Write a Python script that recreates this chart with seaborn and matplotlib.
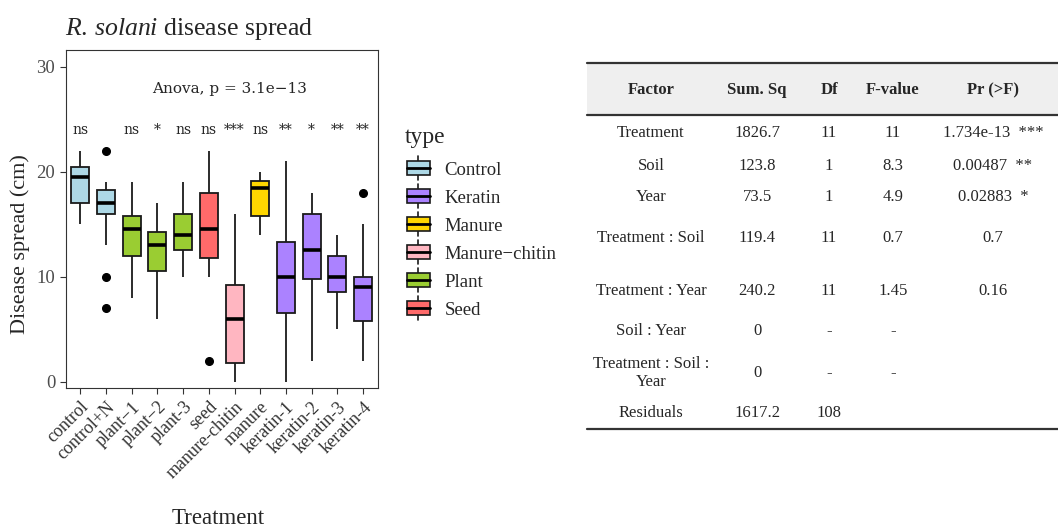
import matplotlib
matplotlib.use('Agg')
from matplotlib import pyplot as plt
from matplotlib.legend_handler import HandlerBase
from matplotlib.patches import Rectangle
from matplotlib.lines import Line2D
import pandas as pd
import seaborn as sb

sb.set_style('white')
plt.rcParams['font.family'] = ['Liberation Serif', 'DejaVu Serif']
plt.rcParams['mathtext.fontset'] = 'custom'
plt.rcParams['mathtext.it'] = 'Liberation Serif:italic'
plt.rcParams['mathtext.rm'] = 'Liberation Serif'

treatments = ['control', 'control+N', 'plant\u22121', 'plant\u22122', 'plant-3', 'seed',
              'manure-chitin', 'manure', 'keratin-1', 'keratin-2', 'keratin-3', 'keratin-4']
types = ['Control', 'Control', 'Plant', 'Plant', 'Plant', 'Seed',
         'Manure\u2212chitin', 'Manure', 'Keratin', 'Keratin', 'Keratin', 'Keratin']
control = [15, 16, 17, 18.5, 19.5, 20, 20.5, 21, 22]
control_n = [7, 10, 13, 16, 16.5, 16.8, 17, 17.5, 18, 18.3, 18.7, 19, 22]
plant_1 = [8, 10, 12, 13.5, 14.5, 15, 15.8, 17, 19]
plant_2 = [6, 9, 10.5, 12, 13, 13.5, 14.3, 16, 17]
plant_3 = [10, 11, 12.5, 13, 14, 15, 16, 17, 19]
seed = [2, 10, 11, 11.75, 13, 14, 14.5, 15, 17, 18, 19, 20, 22]
manure_chitin = [0, 1, 1.75, 4, 6, 7, 9.25, 12, 16]
manure = [14, 15, 15.8, 17, 18.5, 18.8, 19.1, 19.5, 20]
keratin_1 = [0, 4, 6.5, 8, 10, 12, 13.3, 17, 21]
keratin_2 = [2, 7, 9.75, 11, 12.5, 14, 16, 17, 18]
keratin_3 = [5, 7, 8.5, 9, 10, 11, 12, 13, 14]
keratin_4 = [2, 4, 5, 5.75, 7, 8, 9, 9.5, 9.8, 10, 12, 15, 18]
spread = [control, control_n, plant_1, plant_2, plant_3, seed,
          manure_chitin, manure, keratin_1, keratin_2, keratin_3, keratin_4]
signif = ['ns', '', 'ns', '*', 'ns', 'ns', '***', 'ns', '**', '*', '**', '**']
anova_label = 'Anova, p = 3.1e\u221213'

type_order = ['Control', 'Keratin', 'Manure', 'Manure\u2212chitin', 'Plant', 'Seed']
type_colors = ['#ADD8E6', '#AB82FF', '#FFD700', '#FFB6C1', '#9ACD32', '#FF6A6A']

# anova table
tab_header = ['Factor', 'Sum. Sq', 'Df', 'F-value', 'Pr (>F)']
tab_factor = ['Treatment', 'Soil', 'Year', 'Treatment : Soil', 'Treatment : Year',
              'Soil : Year', 'Treatment : Soil :\nYear', 'Residuals']
tab_sumsq = ['1826.7', '123.8', '73.5', '119.4', '240.2', '0', '0', '1617.2']
tab_df = ['11', '1', '1', '11', '11', '-', '-', '108']
tab_f = ['11', '8.3', '4.9', '0.7', '1.45', '-', '-', '']
tab_p = ['1.734e-13  ***', '0.00487  **', '0.02883  *', '0.7', '0.16', '', '', '']

rows = []
for t, ty, vals in zip(treatments, types, spread):
    for v in vals:
        rows.append({'Treatment': t, 'type': ty, 'spread': v})
df = pd.DataFrame(rows)

W, H = 1058, 527
fig = plt.figure(figsize=(W/100, H/100), dpi=100)
ax = fig.add_axes([65.7/W, 1-388/H, 312/W, 338/H])

sb.boxplot(data=df, x='Treatment', y='spread', hue='type', hue_order=type_order,
           palette=dict(zip(type_order, type_colors)), saturation=1, dodge=False, width=0.7,
           order=treatments, linecolor='#1a1a1a', linewidth=1.3, showcaps=False,
           medianprops=dict(color='black', linewidth=2.6),
           flierprops=dict(marker='o', markerfacecolor='black', markeredgecolor='black', markersize=5.5),
           legend=False, ax=ax)

ax.set_xlim(-0.57, 11.57)
ax.set_ylim(-0.6, 31.6)
ax.set_yticks([0, 10, 20, 30])
for s in ax.spines.values():
    s.set_color('#333333')
    s.set_linewidth(0.8)
ax.tick_params(axis='both', length=4, width=0.8, color='#333333', bottom=True, left=True)
ax.tick_params(axis='y', labelsize=13.5, labelcolor='#4D4D4D')
ax.tick_params(axis='x', labelsize=13, labelcolor='#333333')
plt.setp(ax.get_xticklabels(), rotation=45, ha='right', rotation_mode='anchor')
ax.set_xlabel('Treatment', fontsize=16.5)
ax.xaxis.set_label_coords(0.49, -0.355)
ax.set_ylabel('Disease spread (cm)', fontsize=16)
ax.yaxis.set_label_coords(-0.115, 0.426)

for i, s in enumerate(signif):
    ax.text(i, 23.6, s, ha='center', va='baseline', fontsize=10, family='DejaVu Serif')
ax.text(5.79, 27.5, anova_label, ha='center', va='baseline', fontsize=11, family='DejaVu Serif')

fig.text(65/W, 1-35/H, r'$\mathit{R.\,solani}$ disease spread', fontsize=18.5, va='baseline')

# legend with box-shaped keys
class BoxKey(HandlerBase):
    def create_artists(self, legend, orig_handle, xdescent, ydescent, width, height, fontsize, trans):
        fc = orig_handle.get_facecolor()
        y0 = -ydescent
        x0 = -xdescent
        cx = x0 + width/2
        box = Rectangle((x0, y0), width, height, facecolor=fc, edgecolor='#1a1a1a', lw=1.2, transform=trans)
        med = Line2D([x0, x0+width], [y0+height/2]*2, color='black', lw=2.0, transform=trans)
        wu = Line2D([cx, cx], [y0+height, y0+height*1.35], color='#1a1a1a', lw=1.2, transform=trans)
        wl = Line2D([cx, cx], [y0-height*0.35, y0], color='#1a1a1a', lw=1.2, transform=trans)
        return [wl, wu, box, med]

fig.text(405/W, 1-143/H, 'type', fontsize=17, va='baseline')
handles = [Rectangle((0, 0), 1, 1, facecolor=c) for c in type_colors]
leg = fig.legend(handles, type_order, loc='upper left',
                 bbox_to_anchor=(407/W, 1-161/H), frameon=False, fontsize=13.5,
                 handler_map={Rectangle: BoxKey()},
                 handlelength=1.2, handleheight=0.8, labelspacing=0.55, handletextpad=0.8,
                 borderaxespad=0, borderpad=0)

# anova table drawn in pixel coordinates
tx = fig.add_axes([0, 0, 1, 1])
tx.set_xlim(0, W)
tx.set_ylim(H, 0)
tx.axis('off')
tx.add_patch(Rectangle((587, 63), W-587, 52, facecolor='#EFEFEF', edgecolor='none'))
for yy in [63, 115, 429]:
    tx.plot([587, W], [yy, yy], color='#333333', lw=1.6)
col_x = [651, 757, 829, 893, 993]
row_y = [133, 166, 197, 238, 291, 331, 373, 413]
for cx, h in zip(col_x, tab_header):
    tx.text(cx, 90, h, ha='center', va='center', fontsize=12, fontweight='bold')
for j, col in enumerate([tab_factor, tab_sumsq, tab_df, tab_f, tab_p]):
    for ry, val in zip(row_y, col):
        tx.text(col_x[j], ry, val, ha='center', va='center', fontsize=12, linespacing=1.25)

fig.savefig('out.png', dpi=100)
